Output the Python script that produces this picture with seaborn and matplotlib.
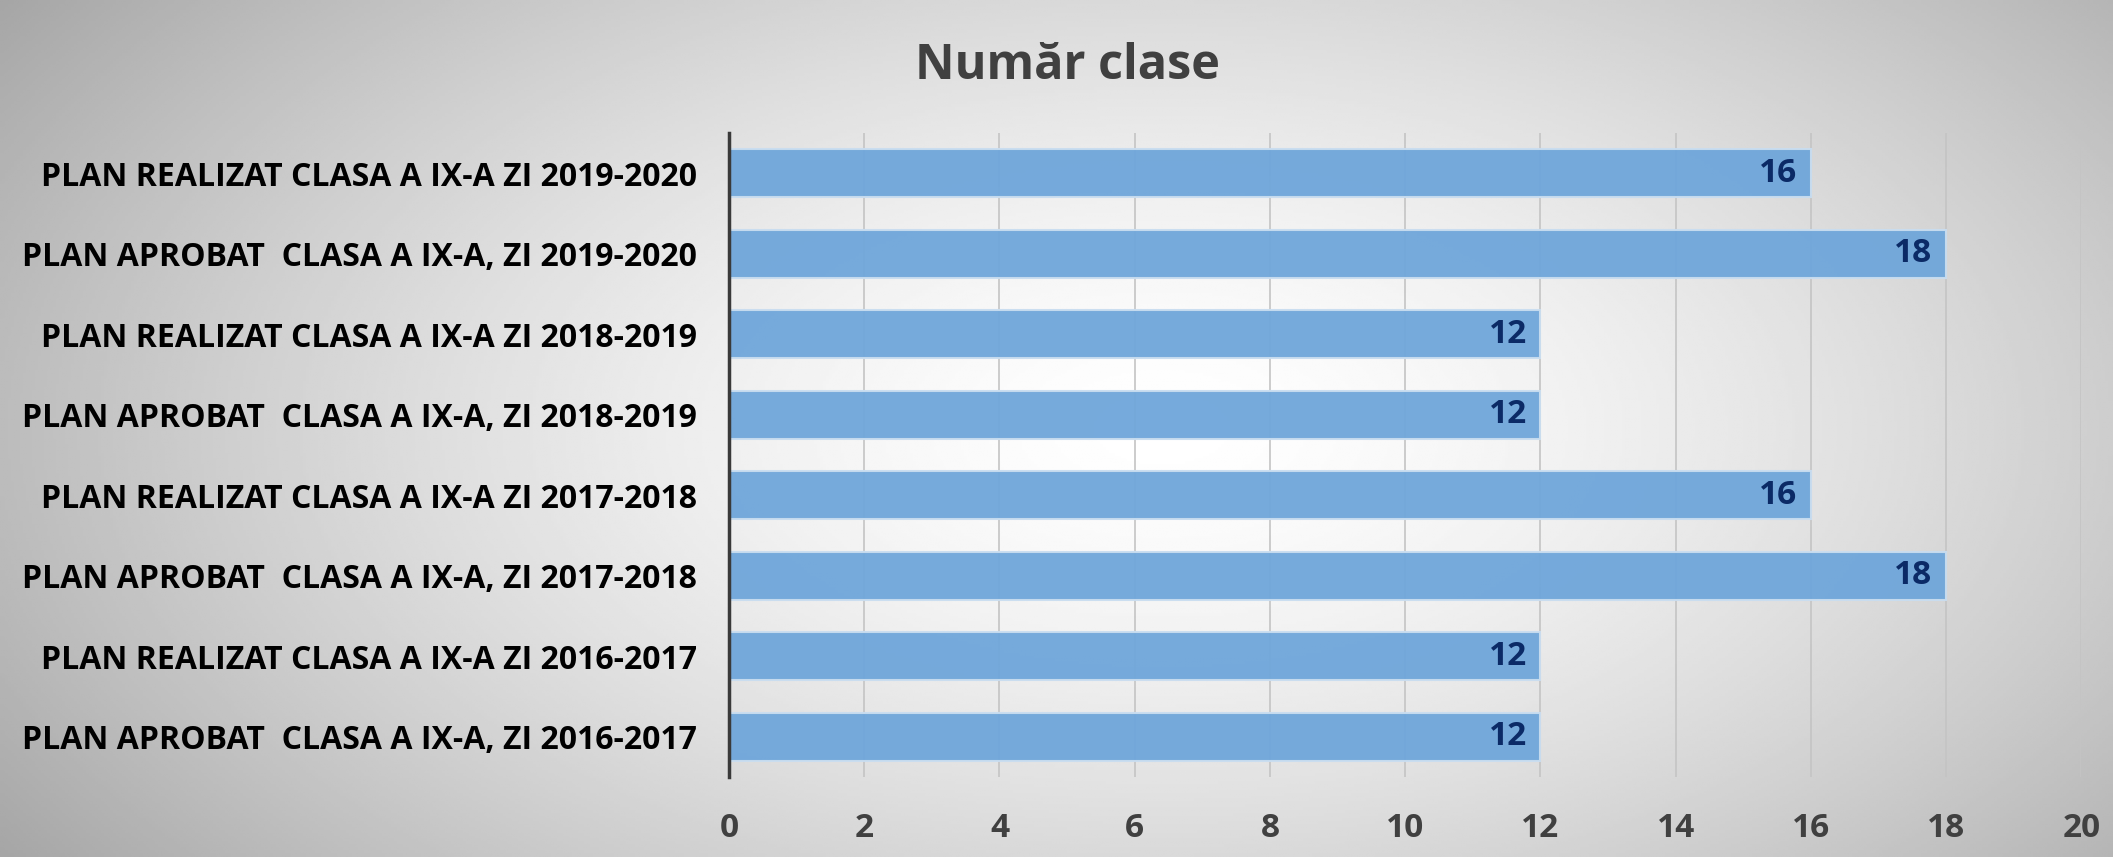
import numpy as np
import pandas as pd
import matplotlib
matplotlib.use("Agg")
import matplotlib.pyplot as plt
import seaborn as sns
from matplotlib import font_manager

# data
categories = [
    "PLAN REALIZAT CLASA A IX-A ZI 2019-2020",
    "PLAN APROBAT  CLASA A IX-A, ZI 2019-2020",
    "PLAN REALIZAT CLASA A IX-A ZI 2018-2019",
    "PLAN APROBAT  CLASA A IX-A, ZI 2018-2019",
    "PLAN REALIZAT CLASA A IX-A ZI 2017-2018",
    "PLAN APROBAT  CLASA A IX-A, ZI 2017-2018",
    "PLAN REALIZAT CLASA A IX-A ZI 2016-2017",
    "PLAN APROBAT  CLASA A IX-A, ZI 2016-2017",
]
values = [16, 18, 12, 12, 16, 18, 12, 12]
x_ticks = list(range(0, 21, 2))
title = "Număr clase"

df = pd.DataFrame({"categorie": categories, "clase": values})

sns.set_theme(style="white")
installed = {f.name for f in font_manager.fontManager.ttflist}
fams = [f for f in ["Liberation Sans Narrow", "Open Sans", "DejaVu Sans"] if f in installed]
plt.rcParams["font.family"] = fams + ["DejaVu Sans"]

fig = plt.figure(figsize=(21.13, 8.57), dpi=100)

# radial grey background
bg = fig.add_axes([0, 0, 1, 1], zorder=-10)
yy, xx = np.mgrid[0:1:300j, 0:1:700j]
r = np.sqrt(((xx - 0.55) / 0.6) ** 2 + ((yy - 0.5) / 0.8) ** 2)
shade = np.clip(1.0 - 0.3 * r ** 1.5, 0, 1)
bg.imshow(shade, cmap="gray", vmin=0, vmax=1, aspect="auto", extent=[0, 1, 0, 1])
bg.axis("off")

ax = fig.add_axes([0.345, 0.0933, 0.64, 0.7515])
ax.patch.set_alpha(0)

sns.barplot(data=df, x="clase", y="categorie", orient="h", order=categories,
            color="#6FA6DA", width=0.6, saturation=1, alpha=0.95,
            edgecolor="#C9DDF0", linewidth=1.5, ax=ax, zorder=2)

for p, v in zip(ax.patches, values):
    ax.text(p.get_width() - 0.2, p.get_y() + p.get_height() / 2, str(v),
            ha="right", va="center", fontsize=24, fontweight="bold",
            color="#0B2A66", zorder=4)

ax.set_xlim(0, 20)
ax.set_xticks(x_ticks)
ax.xaxis.grid(True, color="#C4C4C4", linewidth=1.2, zorder=0)
ax.set_axisbelow(True)
ax.set_xlabel("")
ax.set_ylabel("")
for s in ["top", "right", "bottom"]:
    ax.spines[s].set_visible(False)
ax.spines["left"].set_color("#3A3A3A")
ax.spines["left"].set_linewidth(2.5)
ax.tick_params(axis="x", length=0, pad=25, labelsize=24, labelcolor="#404040")
ax.tick_params(axis="y", length=0, pad=23, labelsize=23, labelcolor="black")
for t in ax.get_xticklabels() + ax.get_yticklabels():
    t.set_fontweight("bold")

fig.text(0.505, 0.922, title, ha="center", va="center", fontsize=35,
         fontweight="bold", color="#404040")

fig.savefig("out.png", dpi=100)
